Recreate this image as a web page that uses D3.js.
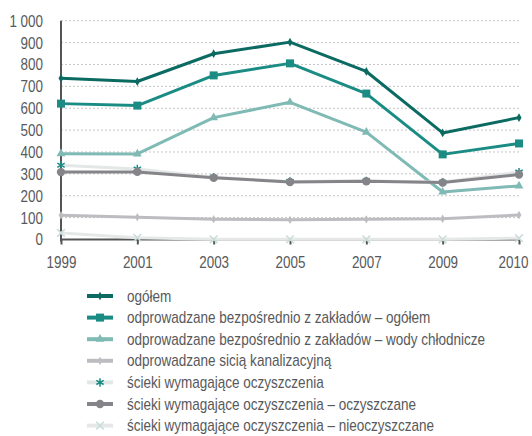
<!DOCTYPE html>
<html>
<head>
<meta charset="utf-8">
<script src="https://cdn.jsdelivr.net/npm/d3@7"></script>
<style>
  html, body { margin: 0; padding: 0; background: #fff; }
  svg { display: block; font-family: "Liberation Sans", Arial, sans-serif; }
</style>
</head>
<body>
<div id="chart"></div>
<script>
// lata (kategorie osi X)
const years = ["1999", "2001", "2003", "2005", "2007", "2009", "2010"];
const yTicks = [0, 100, 200, 300, 400, 500, 600, 700, 800, 900, 1000];

// serie w hm3
const ogolem = [737, 722, 849, 902, 768, 487, 557];
const bezposrednioOgolem = [621, 612, 750, 805, 667, 389, 439];
const wodyChlodnicze = [392, 391, 557, 627, 491, 217, 245];
const sieciaKanalizacyjna = [111, 102, 93, 90, 92, 95, 112];
const wymagajaceOczyszczenia = [339, 322, 284, 265, 268, 262, 308];
const oczyszczane = [308, 309, 282, 263, 266, 260, 297];
const nieoczyszczane = [30, 8, 1, 1, 1, 1, 6];

const seriesNames = [
  "ogółem",
  "odprowadzane bezpośrednio z zakładów – ogółem",
  "odprowadzane bezpośrednio z zakładów – wody chłodnicze",
  "odprowadzane sicią kanalizacyjną",
  "ścieki wymagające oczyszczenia",
  "ścieki wymagające oczyszczenia – oczyszczane",
  "ścieki wymagające oczyszczenia – nieoczyszczane"
];

// wąski krój jak w oryginale - ściskamy tekst w poziomie (skala X)
function squeeze(sel, factor) {
  sel.each(function() {
    const t = d3.select(this);
    const x0 = +t.attr("x") || 0;
    t.attr("x", x0 / factor)
      .attr("transform", `scale(${factor},1)`);
  });
}

function drawChart() {
  const width = 532, height = 436;
  const textColor = "#58595b";

  const series = [
    { name: seriesNames[0], values: ogolem, line: "#0b6b62", mark: "#0b6b62", symbol: d3.symbolDiamond, size: 22, fillMark: true },
    { name: seriesNames[1], values: bezposrednioOgolem, line: "#1a8c84", mark: "#1a8c84", symbol: d3.symbolSquare, size: 64, fillMark: true },
    { name: seriesNames[2], values: wodyChlodnicze, line: "#80bab5", mark: "#80bab5", symbol: d3.symbolTriangle, size: 34, fillMark: true },
    { name: seriesNames[3], values: sieciaKanalizacyjna, line: "#bdbdc1", mark: "#bdbdc1", symbol: d3.symbolDiamond, size: 20, fillMark: true },
    { name: seriesNames[4], values: wymagajaceOczyszczenia, line: "#e4e7e7", mark: "#1a8c84", symbol: d3.symbolAsterisk, size: 50, fillMark: false },
    { name: seriesNames[5], values: oczyszczane, line: "#858589", mark: "#858589", symbol: d3.symbolCircle, size: 55, fillMark: true },
    { name: seriesNames[6], values: nieoczyszczane, line: "#e6e8e8", mark: "#c9dcda", symbol: d3.symbolTimes, size: 40, fillMark: false }
  ];

  const svg = d3.select("#chart").append("svg")
    .attr("width", width)
    .attr("height", height)
    .attr("viewBox", [0, 0, width, height]);

  const x = d3.scalePoint().domain(years).range([61, 519]);
  const y = d3.scaleLinear().domain([0, 1000]).range([239.5, 20.7]);

  // siatka
  svg.append("g")
    .selectAll("line")
    .data(yTicks.filter(d => d > 0))
    .join("line")
    .attr("x1", 61).attr("x2", 519)
    .attr("y1", d => y(d)).attr("y2", d => y(d))
    .attr("stroke", "#c4c4c4")
    .attr("stroke-width", 1)
    .attr("stroke-dasharray", "2,2");

  // oś Y
  const yAxis = svg.append("g")
    .attr("transform", "translate(61,0)")
    .call(d3.axisLeft(y).tickValues(yTicks).tickSize(0).tickPadding(18)
      .tickFormat(d => d === 1000 ? "1 000" : d));
  yAxis.select(".domain").remove();
  yAxis.selectAll("text")
    .attr("fill", textColor)
    .attr("font-size", 17)
    .attr("font-family", "Liberation Sans, sans-serif")
    .call(squeeze, 0.79);
  svg.append("line")
    .attr("x1", 61).attr("x2", 61)
    .attr("y1", y(1000)).attr("y2", y(0) + 2)
    .attr("stroke", "#555558").attr("stroke-width", 2);

  // oś X
  const xAxis = svg.append("g")
    .attr("transform", `translate(0,${y(0)})`)
    .call(d3.axisBottom(x).tickSize(5).tickPadding(11));
  xAxis.select(".domain")
    .attr("d", `M61,0H519`)
    .attr("stroke", "#555558").attr("stroke-width", 2);
  xAxis.selectAll(".tick line").attr("stroke", "#555558").attr("stroke-width", 2);
  // ostatni rok dosunięty do krawędzi
  xAxis.selectAll(".tick text").filter(d => d === "2010").attr("x", -6);
  xAxis.selectAll("text")
    .attr("fill", textColor)
    .attr("font-size", 17)
    .attr("font-family", "Liberation Sans, sans-serif")
    .call(squeeze, 0.79);

  const line = d3.line()
    .x((d, i) => x(years[i]))
    .y(d => y(d));

  const plot = svg.append("g");
  series.forEach(s => {
    const g = plot.append("g");
    g.append("path")
      .datum(s.values)
      .attr("fill", "none")
      .attr("stroke", s.line)
      .attr("stroke-width", 3)
      .attr("stroke-linejoin", "round")
      .attr("d", line);
    g.selectAll("path.mark")
      .data(s.values)
      .join("path")
      .attr("class", "mark")
      .attr("transform", (d, i) => `translate(${x(years[i])},${y(d)})`)
      .attr("d", d3.symbol(s.symbol, s.size))
      .attr("fill", s.fillMark ? s.mark : "none")
      .attr("stroke", s.fillMark ? "none" : s.mark)
      .attr("stroke-width", s.fillMark ? 0 : 1.5);
  });

  // legenda
  const legend = svg.append("g").attr("transform", "translate(87,296)");
  const rowH = 21.6;
  const rows = legend.selectAll("g")
    .data(series)
    .join("g")
    .attr("transform", (d, i) => `translate(0,${i * rowH})`);
  rows.append("line")
    .attr("x1", 0).attr("x2", 26)
    .attr("stroke", d => d.line)
    .attr("stroke-width", 4);
  rows.append("path")
    .attr("transform", "translate(13,0)")
    .attr("d", d => d3.symbol(d.symbol, d.size)())
    .attr("fill", d => d.fillMark ? d.mark : "none")
    .attr("stroke", d => d.fillMark ? "none" : d.mark)
    .attr("stroke-width", d => d.fillMark ? 0 : 1.5);
  rows.append("text")
    .attr("x", 40)
    .attr("dy", "0.35em")
    .attr("fill", textColor)
    .attr("font-size", 16)
    .text(d => d.name)
    .call(squeeze, 0.845);
}

document.addEventListener('DOMContentLoaded', () => {
  drawChart();
});
</script>
</body>
</html>
